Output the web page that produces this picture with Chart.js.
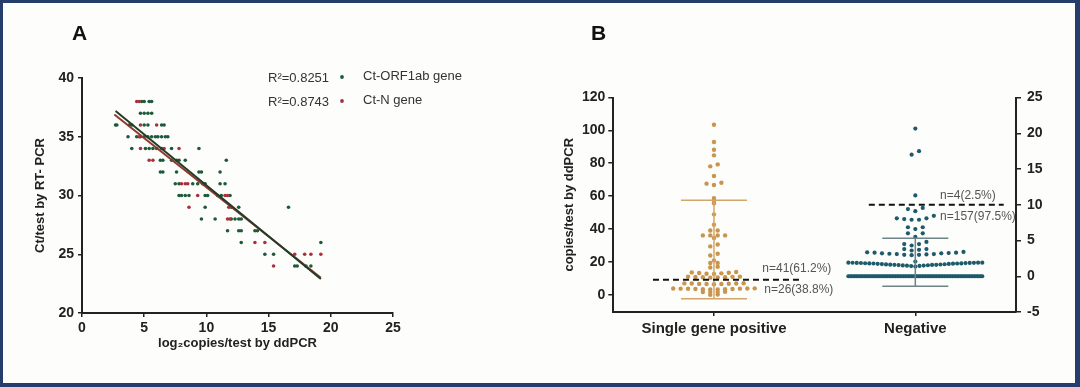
<!DOCTYPE html>
<html>
<head>
<meta charset="utf-8">
<script src="https://cdn.jsdelivr.net/npm/chart.js@4.4.1/dist/chart.umd.min.js"></script>
<style>
    html, body { margin: 0; padding: 0; background: #fdfdfb; }
    #page { position: relative; width: 1080px; height: 387px; overflow: hidden; background: #fdfdfb; font-family: Arial, "Liberation Sans", sans-serif; }
    #frame { position: absolute; left: 0; top: 0; width: 1080px; height: 387px; box-sizing: border-box; border: 3px solid #243d6b; border-right-width: 5px; border-bottom-width: 4px; pointer-events: none; }
    canvas { position: absolute; top: 0; }
    #chartA { left: 0; }
    #chartB { left: 540px; }
    .tag { position: absolute; font-weight: bold; font-size: 21px; color: #111; }
</style>
</head>
<body>
<div id="page">
    <canvas id="chartA" width="540" height="387"></canvas>
    <canvas id="chartB" width="540" height="387"></canvas>
    <div class="tag" style="left:72px; top:21px;">A</div>
    <div class="tag" style="left:591px; top:21px;">B</div>
    <div id="frame"></div>
</div>
<script>
window.onload = main;

// ---- panel A: Ct value vs log2 copies ----
var orfX = [4.8, 5.0, 5.4, 5.6,
    4.7, 5.0, 5.3, 5.6,
    2.7, 2.8, 3.8, 4.0, 5.0, 5.3, 6.4, 6.6,
    3.7, 4.4, 4.7, 5.0, 5.3, 5.6, 5.9, 6.1, 6.4, 6.7, 6.9,
    4.0, 5.1, 5.4, 5.7, 6.0, 6.4, 7.2, 9.4,
    6.3, 6.5, 7.2, 7.6, 7.8, 8.3, 11.6,
    6.3, 6.5, 7.6, 9.4, 9.6, 11.1,
    7.5, 7.8, 8.9, 9.3, 9.7, 9.9, 11.1, 11.5,
    7.8, 8.0, 8.3, 8.6, 9.9, 10.1, 10.9, 11.2, 11.9,
    9.9, 12.0, 12.6, 16.6,
    9.6, 10.7, 12.0, 12.3, 12.6, 12.8,
    11.7, 12.6, 12.8, 13.9, 14.1,
    12.8, 19.2,
    14.7, 15.4,
    17.1, 17.3, 18.0, 18.4];
var orfY = [38, 38, 38, 38,
    37, 37, 37, 37,
    36, 36, 36, 36, 36, 36, 36, 36,
    35, 35, 35, 35, 35, 35, 35, 35, 35, 35, 35,
    34, 34, 34, 34, 34, 34, 34, 34,
    33, 33, 33, 33, 33, 33, 33,
    32, 32, 32, 32, 32, 32,
    31, 31, 31, 31, 31, 31, 31, 31,
    30, 30, 30, 30, 30, 30, 30, 30, 30,
    29, 29, 29, 29,
    28, 28, 28, 28, 28, 28,
    27, 27, 27, 27, 27,
    26, 26,
    25, 25,
    24, 24, 24, 24];
var nX = [4.4, 4.6, 4.7, 6.0, 4.6, 4.7, 6.6, 7.8, 5.4, 5.7, 8.0, 8.3, 8.5, 9.3, 11.5, 11.7,
    8.6, 11.8, 11.7, 11.9, 13.9, 14.7, 17.1, 17.9, 18.4, 19.2, 15.4];
var nY = [38, 38, 36, 36, 35, 34, 34, 34, 33, 33, 31, 31, 31, 30, 30, 30,
    29, 29, 28, 28, 26, 26, 25, 25, 25, 25, 24];
var orfFitX = [2.7, 19.2];
var orfFitY = [37.2, 22.9];
var nFitX = [2.6, 19.2];
var nFitY = [36.9, 23.0];
var r2Text = ["R\u00b2=0.8251", "R\u00b2=0.8743"];
var geneText = ["Ct-ORF1ab gene", "Ct-N gene"];

// ---- panel B: copies per test by group ----
var groups = ["Single gene positive", "Negative"];
var singleVals = [103.4, 92.9, 88.2, 84.8, 79.3, 78.1, 72.2, 68.1, 67.6, 66.8,
    58.8, 57.2, 55.6, 48.9, 42.6, 39.1, 39.1, 36.1, 36.1, 36.1, 36.1, 34.5,
    30.6, 29.4, 24.9, 23.9, 20.9, 19.3, 19.3, 17.0, 16.6,
    13.8, 13.6, 13.4, 13.2, 13.0, 12.8, 12.6,
    11.0, 11.0, 10.9, 10.8, 10.7, 10.6, 10.5, 10.4,
    7.0, 6.9, 6.8, 6.8, 6.7, 6.6, 6.5, 6.5, 6.4,
    3.9, 3.8, 3.8, 3.7, 3.7, 3.6, 3.5, 3.5, 3.4, 3.3, 3.2, 3.2,
    1.8, 1.7, 1.6, 1.6,
    0.1, 0];
var negVals = [20.65, 17.5, 17.0, 11.3,
    9.55, 9.4, 9.1,
    8.45, 8.1, 8.1, 8.0, 7.9, 7.9,
    6.85, 6.85, 6.6,
    6.0, 6.0, 5.5,
    4.8, 4.5, 4.5, 4.3,
    3.8, 3.8, 3.7, 3.6,
    3.4, 3.35, 3.3, 3.3, 3.25, 3.2, 3.2, 3.15, 3.1, 3.1, 3.05, 3.0, 3.0, 2.95,
    2.05,
    1.9, 1.9, 1.9, 1.89, 1.88, 1.87, 1.86, 1.85, 1.84, 1.82, 1.8, 1.8, 1.78, 1.78, 1.76, 1.74, 1.72,
    1.7, 1.68, 1.66, 1.64, 1.62, 1.6, 1.6, 1.58, 1.56, 1.54, 1.52, 1.5, 1.48, 1.44, 1.42, 1.35,
    0, 0, 0, 0, 0, 0, 0, 0, 0, 0, 0, 0, 0, 0, 0, 0, 0, 0, 0, 0,
    0, 0, 0, 0, 0, 0, 0, 0, 0, 0, 0, 0, 0, 0, 0, 0, 0, 0, 0, 0,
    0, 0, 0, 0, 0, 0, 0, 0, 0, 0, 0, 0, 0, 0, 0, 0, 0, 0, 0, 0,
    0, 0, 0, 0, 0, 0, 0, 0, 0, 0, 0, 0, 0, 0, 0, 0, 0, 0, 0, 0,
    0, 0, 0, 0, 0, 0];
var singleBar = [-2.4, 57.5];   // error bar ends, left axis
var negBar = [-1.4, 5.3];       // error bar ends, right axis
var singleCut = 9.1;
var negCut = 10;
var notes = ["n=41(61.2%)", "n=26(38.8%)", "n=4(2.5%)", "n=157(97.5%)"];

var FONT = 'Arial, "Liberation Sans", sans-serif';
var GREEN = '#1d5a3a', RED = '#a8323c';
var TAN = '#c9954c', TEAL = '#1d5a6b';

function zip(xs, ys) {
    var out = [];
    for (var i = 0; i < xs.length; i++) out.push({ x: xs[i], y: ys[i] });
    return out;
}

// simple dot-plot layout: group close values in rows, spread each row from the centre out
function swarm(values, center, gap, maxRow, bin) {
    var sorted = values.slice().sort(function (a, b) { return a - b; });
    var rows = [], cur = null;
    sorted.forEach(function (v) {
        if (!cur || v - cur.start > bin) { cur = { start: v, vals: [] }; rows.push(cur); }
        cur.vals.push(v);
    });
    var pts = [];
    rows.forEach(function (r) {
        var n = r.vals.length;
        var step = n > 1 ? Math.min(gap, maxRow / (n - 1)) : 0;
        var slots = [];
        for (var i = 0; i < n; i++) slots.push((i - (n - 1) / 2) * step);
        slots.sort(function (a, b) { return Math.abs(a) - Math.abs(b); });
        r.vals.forEach(function (v, i) { pts.push({ x: center + slots[i], y: v }); });
    });
    return pts;
}

function seg(x1, y1, x2, y2, axis, color, width, dash) {
    return {
        data: [{ x: x1, y: y1 }, { x: x2, y: y2 }],
        showLine: true, pointRadius: 0, borderColor: color, borderWidth: width,
        borderDash: dash || [], yAxisID: axis
    };
}

function axisStyle(extra) {
    var base = {
        grid: { display: true, drawOnChartArea: false, drawTicks: true, tickLength: 4, color: '#222', lineWidth: 1.5 },
        border: { display: true, color: '#222', width: 2 },
        ticks: { color: '#222', font: { family: FONT, size: 14, weight: 'bold' }, padding: 4 }
    };
    return Object.assign(base, extra);
}

function main() {
    Chart.defaults.font.family = FONT;
    dibujarA();
    dibujarB();
}

function dibujarA() {
    var legendA = {
        id: 'legendA',
        afterDraw: function (chart) {
            var ctx = chart.ctx;
            var cols = [GREEN, RED];
            ctx.save();
            ctx.font = '13px ' + FONT;
            ctx.fillStyle = '#333';
            ctx.textBaseline = 'middle';
            for (var i = 0; i < 2; i++) {
                var y = 77 + i * 24;
                ctx.fillStyle = '#333';
                ctx.fillText(r2Text[i], 268, y + 1);
                ctx.fillText(geneText[i], 363, y - 1);
                ctx.fillStyle = cols[i];
                ctx.beginPath();
                ctx.arc(342, y, 1.9, 0, Math.PI * 2);
                ctx.fill();
            }
            ctx.restore();
        }
    };

    new Chart(document.getElementById('chartA').getContext('2d'), {
        type: 'scatter',
        data: {
            datasets: [
                { data: zip(orfFitX, orfFitY), showLine: true, pointRadius: 0, borderColor: '#243a28', borderWidth: 2 },
                { data: zip(nFitX, nFitY), showLine: true, pointRadius: 0, borderColor: '#8b3a2b', borderWidth: 2 },
                { data: zip(nX, nY), pointRadius: 1.8, pointBackgroundColor: RED, pointBorderWidth: 0 },
                { data: zip(orfX, orfY), pointRadius: 1.8, pointBackgroundColor: GREEN, pointBorderWidth: 0 }
            ]
        },
        options: {
            responsive: false,
            animation: false,
            layout: { padding: { left: 22, top: 78, right: 147, bottom: 24 } },
            plugins: { legend: { display: false }, tooltip: { enabled: false } },
            scales: {
                x: axisStyle({
                    min: 0, max: 25,
                    ticks: { stepSize: 5, color: '#222', font: { family: FONT, size: 14, weight: 'bold' }, padding: 3, maxRotation: 0 },
                    title: { display: true, text: 'log\u2082copies/test by ddPCR', color: '#222', font: { family: FONT, size: 13, weight: 'bold' }, padding: { bottom: 12 } },
                    afterFit: function (s) { s.height = 50; }
                }),
                y: axisStyle({
                    min: 20, max: 40,
                    ticks: { stepSize: 5, color: '#222', font: { family: FONT, size: 14, weight: 'bold' }, padding: 4 },
                    title: { display: true, text: 'Ct/test by RT- PCR', color: '#222', font: { family: FONT, size: 13, weight: 'bold' }, padding: { top: 11 } },
                    afterFit: function (s) { s.width = 60; }
                })
            }
        },
        plugins: [legendA]
    });
}

function dibujarB() {
    var GAP = 0.0368, ROW = 0.665, CAP = 0.164;
    var notesB = {
        id: 'notesB',
        afterDraw: function (chart) {
            var ctx = chart.ctx, sx = chart.scales.x, sy = chart.scales.y, sy2 = chart.scales.y2;
            var spots = [[0.74, 16, sy], [0.75, 3.2, sy], [1.623, 11.3, sy2], [1.623, 8.4, sy2]];
            ctx.save();
            ctx.font = '12px ' + FONT;
            ctx.fillStyle = '#555';
            ctx.textBaseline = 'middle';
            spots.forEach(function (p, i) {
                ctx.fillText(notes[i], sx.getPixelForValue(p[0]), p[2].getPixelForValue(p[1]));
            });
            ctx.restore();
        }
    };

    new Chart(document.getElementById('chartB').getContext('2d'), {
        type: 'scatter',
        data: {
            datasets: [
                seg(0.5 - 0.303, singleCut, 0.5 + 0.426, singleCut, 'y', '#111', 2, [6, 4]),
                seg(1.5 - 0.231, negCut, 1.5 + 0.439, negCut, 'y2', '#111', 2, [6, 4]),
                seg(0.5, singleBar[0], 0.5, singleBar[1], 'y', '#d2a66a', 1.5),
                seg(0.5 - CAP, singleBar[0], 0.5 + CAP, singleBar[0], 'y', '#d2a66a', 1.5),
                seg(0.5 - CAP, singleBar[1], 0.5 + CAP, singleBar[1], 'y', '#d2a66a', 1.5),
                seg(1.5, negBar[0], 1.5, negBar[1], 'y2', '#6f8486', 1.5),
                seg(1.5 - CAP, negBar[0], 1.5 + CAP, negBar[0], 'y2', '#6f8486', 1.5),
                seg(1.5 - CAP, negBar[1], 1.5 + CAP, negBar[1], 'y2', '#6f8486', 1.5),
                { data: swarm(singleVals, 0.5, GAP, ROW, 1.4), yAxisID: 'y', pointRadius: 2.2, pointBackgroundColor: TAN, pointBorderWidth: 0 },
                { data: swarm(negVals, 1.5, GAP, ROW, 0.6), yAxisID: 'y2', pointRadius: 2.1, pointBackgroundColor: TEAL, pointBorderWidth: 0 }
            ]
        },
        options: {
            responsive: false,
            animation: false,
            layout: { padding: { left: 14, top: 97.5, right: 14, bottom: 35 } },
            plugins: { legend: { display: false }, tooltip: { enabled: false } },
            scales: {
                x: axisStyle({
                    min: 0, max: 2,
                    afterBuildTicks: function (s) { s.ticks = [{ value: 0.5 }, { value: 1.5 }]; },
                    ticks: {
                        color: '#222', font: { family: FONT, size: 15, weight: 'bold' }, padding: 4, maxRotation: 0, autoSkip: false,
                        callback: function (v) { return groups[Math.round(v - 0.5)]; }
                    },
                    afterFit: function (s) { s.height = 40; }
                }),
                y: axisStyle({
                    min: -10.5, max: 120,
                    afterBuildTicks: function (s) {
                        s.ticks = [0, 20, 40, 60, 80, 100, 120].map(function (v) { return { value: v }; });
                    },
                    grid: { display: true, drawOnChartArea: false, drawTicks: true, tickLength: 5, color: '#222', lineWidth: 1.5 },
                    ticks: { color: '#222', font: { family: FONT, size: 14, weight: 'bold' }, padding: 3 },
                    title: { display: true, text: 'copies/test by ddPCR', color: '#222', font: { family: FONT, size: 13, weight: 'bold' }, padding: { top: 8 } },
                    afterFit: function (s) { s.width = 59.3; }
                }),
                y2: axisStyle({
                    type: 'linear', position: 'right',
                    min: -5, max: 25,
                    grid: { display: true, drawOnChartArea: false, drawTicks: true, tickLength: 5, color: '#222', lineWidth: 1.5 },
                    ticks: { stepSize: 5, color: '#222', font: { family: FONT, size: 14, weight: 'bold' }, padding: 6 },
                    afterFit: function (s) { s.width = 50; }
                })
            }
        },
        plugins: [notesB]
    });
}
</script>
</body>
</html>
